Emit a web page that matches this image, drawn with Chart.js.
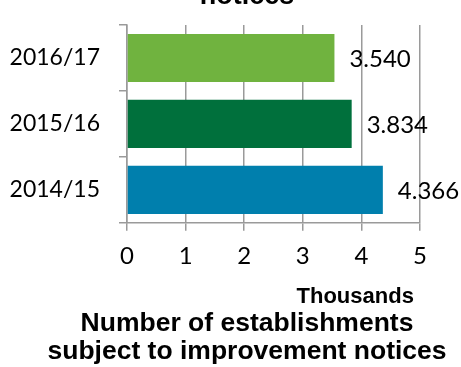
<!DOCTYPE html>
<html>
<head>
<meta charset="utf-8">
<script src="https://cdn.jsdelivr.net/npm/chart.js@4"></script>
<style>
  html, body { margin: 0; padding: 0; background: #fff; }
  #frame { width: 461px; height: 367px; overflow: hidden; position: relative; }
  #box { position: absolute; left: 0; top: -20px; width: 461px; height: 387px; }
</style>
</head>
<body>
<div id="frame"><div id="box"><canvas id="chart"></canvas></div></div>
<script>
var years = ['2016/17', '2015/16', '2014/15'];
var establishments = [3.540, 3.834, 4.366]; // thousands
var barColours = ['#70b33f', '#00703c', '#007fad'];
var xMin = 0;
var xMax = 5;

var gridGrey = '#9a9a9a';
var tickFont = { family: 'Lato', size: 24 };

// write each value just past the end of its bar
var valueLabels = {
    id: 'valueLabels',
    afterDatasetsDraw(chart) {
        var ctx = chart.ctx;
        var meta = chart.getDatasetMeta(0);
        ctx.save();
        ctx.font = '24px Lato';
        ctx.fillStyle = '#000';
        ctx.textAlign = 'left';
        ctx.textBaseline = 'middle';
        meta.data.forEach(function (bar, i) {
            ctx.fillText(establishments[i].toFixed(3), bar.x + 15, bar.y + 1);
        });
        ctx.restore();
    }
};

// the year labels run into the left padding, so let the y axis reach the edge
var yLabelRoom = {
    id: 'yLabelRoom',
    afterLayout(chart) {
        chart.scales.y.left = 0;
    }
};

new Chart(document.getElementById('chart'), {
    type: 'bar',
    data: {
        labels: years,
        datasets: [{
            data: establishments,
            backgroundColor: barColours,
            borderWidth: 0,
            barPercentage: 0.73,
            categoryPercentage: 1
        }]
    },
    options: {
        indexAxis: 'y',
        responsive: true,
        maintainAspectRatio: false,
        animation: false,
        layout: { padding: { left: 33, right: 0, top: 0, bottom: 0 } },
        scales: {
            x: {
                min: xMin,
                max: xMax,
                ticks: { stepSize: 1, color: '#000', font: tickFont, padding: 11.5 },
                grid: { color: gridGrey, lineWidth: 1.5, tickLength: 8 },
                border: { color: gridGrey, width: 1.5 },
                title: {
                    display: true,
                    text: 'Thousands\u00a0',
                    align: 'end',
                    color: '#000',
                    font: { family: 'Liberation Sans', size: 22, weight: 'bold' },
                    padding: { top: 1, bottom: 0 }
                }
            },
            y: {
                ticks: { color: '#000', font: { family: 'Lato', size: 23 }, padding: 19 },
                grid: { display: true, drawOnChartArea: false, offset: true, color: gridGrey, lineWidth: 1.5, tickLength: 8 },
                border: { color: gridGrey, width: 1.5 },
                afterFit: function (axis) { axis.width = 94; }
            },
            // empty strip on the right, keeps room for the value labels
            yRight: {
                type: 'category',
                axis: 'y',
                position: 'right',
                grid: { display: false },
                border: { display: false },
                ticks: { display: false },
                afterFit: function (axis) { axis.width = 41; }
            }
        },
        plugins: {
            legend: { display: false },
            tooltip: { enabled: false },
            subtitle: {
                display: true,
                position: 'top',
                text: 'notices',
                color: '#000',
                font: { family: 'Liberation Sans', size: 27, weight: 'bold' },
                padding: { top: 0, bottom: 12.6 }
            },
            title: {
                display: true,
                position: 'bottom',
                text: ['Number of establishments', 'subject to improvement notices'],
                color: '#000',
                font: { family: 'Liberation Sans', size: 26.5, weight: 'bold', lineHeight: '28px' },
                padding: { top: 0, bottom: 1 }
            }
        }
    },
    plugins: [valueLabels, yLabelRoom]
});
</script>
</body>
</html>
